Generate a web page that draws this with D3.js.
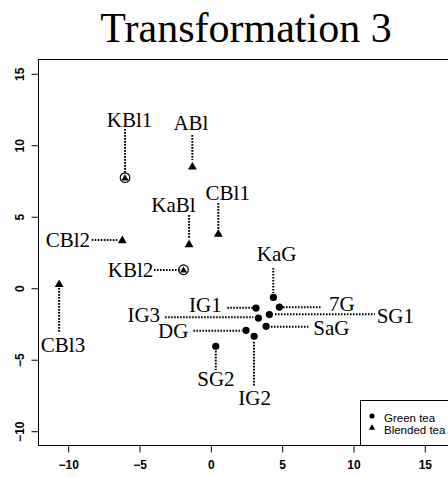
<!DOCTYPE html>
<html>
<head>
<meta charset="utf-8">
<script src="https://cdn.jsdelivr.net/npm/d3@7"></script>
<style>
  html, body { margin: 0; padding: 0; background: #fff; }
  svg { display: block; }
</style>
</head>
<body>
<div id="chart"></div>
<script>
// Scores of each tea sample on the two transformed axes
const greenTea = [
  { name: "KaG", x: 4.42, y: -0.68 },
  { name: "7G",  x: 4.84, y: -1.35 },
  { name: "IG1", x: 3.20, y: -1.42 },
  { name: "SG1", x: 4.14, y: -1.88 },
  { name: "IG3", x: 3.37, y: -2.12 },
  { name: "SaG", x: 3.91, y: -2.70 },
  { name: "DG",  x: 2.50, y: -2.98 },
  { name: "IG2", x: 3.07, y: -3.40 },
  { name: "SG2", x: 0.38, y: -4.10 }
];
const blendedTea = [
  { name: "KBl1", x: -5.98, y: 7.70, ring: true },
  { name: "ABl",  x: -1.26, y: 8.50 },
  { name: "CBl1", x: 0.56,  y: 3.81 },
  { name: "KaBl", x: -1.49, y: 3.07 },
  { name: "CBl2", x: -6.17, y: 3.35 },
  { name: "KBl2", x: -1.88, y: 1.26, ring: true },
  { name: "CBl3", x: -10.60, y: 0.28 }
];

// Sample labels placed in data units (anchor = text-anchor)
const labels = [
  { name: "KBl1", x: -5.66, y: 11.26, anchor: "middle" },
  { name: "ABl",  x: -1.36, y: 11.00, anchor: "middle" },
  { name: "CBl1", x: 1.22,  y: 6.13,  anchor: "middle" },
  { name: "KaBl", x: -2.59, y: 5.32,  anchor: "middle" },
  { name: "CBl2", x: -8.43, y: 2.87,  anchor: "end" },
  { name: "KBl2", x: -4.00, y: 0.77,  anchor: "end" },
  { name: "CBl3", x: -10.33, y: -4.50, anchor: "middle" },
  { name: "KaG",  x: 4.65,  y: 1.89,  anchor: "middle" },
  { name: "7G",   x: 8.32,  y: -1.61, anchor: "start" },
  { name: "IG1",  x: 0.80,  y: -1.68, anchor: "end" },
  { name: "SG1",  x: 11.66, y: -2.49, anchor: "start" },
  { name: "IG3",  x: -3.52, y: -2.38, anchor: "end" },
  { name: "SaG",  x: 7.22,  y: -3.31, anchor: "start" },
  { name: "DG",   x: -1.54, y: -3.54, anchor: "end" },
  { name: "IG2",  x: 3.11,  y: -8.20, anchor: "middle" },
  { name: "SG2",  x: 0.39,  y: -6.85, anchor: "middle" }
];

// Dotted leader lines joining labels to their points, in data units
const leaders = [
  { x1: -5.98, y1: 11.10, x2: -5.98, y2: 8.02 },
  { x1: -1.26, y1: 10.68, x2: -1.26, y2: 8.93 },
  { x1: 0.56,  y1: 5.92,  x2: 0.56,  y2: 4.03 },
  { x1: -1.49, y1: 5.08,  x2: -1.49, y2: 3.48 },
  { x1: -8.31, y1: 3.34,  x2: -6.52, y2: 3.34 },
  { x1: -3.95, y1: 1.24,  x2: -2.12, y2: 1.24 },
  { x1: -10.60, y1: -0.02, x2: -10.60, y2: -3.17 },
  { x1: 4.41,  y1: 1.38,  x2: 4.41,  y2: -0.37 },
  { x1: 5.09,  y1: -1.37, x2: 7.81,  y2: -1.37 },
  { x1: 1.19,  y1: -1.40, x2: 3.01,  y2: -1.40 },
  { x1: 4.53,  y1: -1.86, x2: 11.54, y2: -1.86 },
  { x1: -3.17, y1: -2.07, x2: 3.01,  y2: -2.07 },
  { x1: 4.25,  y1: -2.73, x2: 6.87,  y2: -2.73 },
  { x1: -1.19, y1: -3.01, x2: 2.20,  y2: -3.01 },
  { x1: 3.06,  y1: -3.78, x2: 3.06,  y2: -6.92 },
  { x1: 0.38,  y1: -4.41, x2: 0.38,  y2: -5.76 }
];

const xTicks = [-10, -5, 0, 5, 10, 15];
const yTicks = [-10, -5, 0, 5, 10, 15];
const xLimits = [-11, 16];
const yLimits = [-10, 15];
const chartTitle = "Transformation 3";
const legendItems = [
  { label: "Green tea", shape: "circle" },
  { label: "Blended tea", shape: "triangle" }
];

const W = 448, H = 477;
const plot = { left: 38, right: 454, top: 59, bottom: 445 };

// R-style 4% axis expansion
function expand([a, b]) { const d = (b - a) * 0.04; return [a - d, b + d]; }

const x = d3.scaleLinear().domain(expand(xLimits)).range([plot.left, plot.right]);
const y = d3.scaleLinear().domain(expand(yLimits)).range([plot.bottom, plot.top]);

const svg = d3.select("#chart").append("svg")
  .attr("width", W).attr("height", H);

// Title
svg.append("text")
  .attr("x", (plot.left + plot.right) / 2)
  .attr("y", 42)
  .attr("text-anchor", "middle")
  .attr("font-family", "'Liberation Serif', 'Times New Roman', serif")
  .attr("font-size", 42)
  .attr("fill", "#000")
  .text(chartTitle);

// Plot frame
svg.append("rect")
  .attr("x", plot.left + 0.5).attr("y", plot.top + 0.5)
  .attr("width", plot.right - plot.left).attr("height", plot.bottom - plot.top)
  .attr("fill", "none").attr("stroke", "#000").attr("stroke-width", 1);

const tickFont = "'Liberation Sans', Arial, Helvetica, sans-serif";

// Bottom axis
const xAxis = svg.append("g")
  .attr("transform", `translate(0.5,${plot.bottom + 8.5})`)
  .call(d3.axisBottom(x).tickValues(xTicks).tickSize(7).tickSizeOuter(0).tickPadding(6)
    .tickFormat(d3.format("d")));
xAxis.select(".domain").remove();
xAxis.selectAll("line").attr("transform", "translate(0,-8)").attr("stroke", "#000");
xAxis.selectAll("text")
  .attr("font-family", tickFont).attr("font-size", 12).attr("font-weight", "bold")
  .attr("fill", "#000").attr("dy", "0.2em");

// Left axis (labels rotated like R's default)
const yAxis = svg.append("g")
  .attr("transform", `translate(${plot.left + 0.5},0.5)`)
  .call(d3.axisLeft(y).tickValues(yTicks).tickSize(7).tickSizeOuter(0)
    .tickFormat(d3.format("d")));
yAxis.select(".domain").remove();
yAxis.selectAll("line").attr("stroke", "#000");
yAxis.selectAll("text")
  .attr("font-family", tickFont).attr("font-size", 12).attr("font-weight", "bold")
  .attr("fill", "#000")
  .attr("x", null).attr("dy", null)
  .attr("text-anchor", "middle")
  .attr("transform", "translate(-18.5,0) rotate(-90)")
  .attr("dy", "0.35em");

// Leaders
svg.append("g").selectAll("line").data(leaders).join("line")
  .attr("x1", d => x(d.x1)).attr("y1", d => y(d.y1))
  .attr("x2", d => x(d.x2)).attr("y2", d => y(d.y2))
  .attr("stroke", "#000").attr("stroke-width", 2)
  .attr("stroke-dasharray", "1.6,1.4");

// Green tea points
svg.append("g").selectAll("circle").data(greenTea).join("circle")
  .attr("cx", d => x(d.x)).attr("cy", d => y(d.y))
  .attr("r", 3.6).attr("fill", "#000");

// Blended tea points; KBl1 and KBl2 are also ringed
const tri = d3.symbol().type(d3.symbolTriangle);
const bl = svg.append("g");
bl.selectAll("path").data(blendedTea).join("path")
  .attr("transform", d => `translate(${x(d.x)},${y(d.y) + 0.8})`)
  .attr("d", d => tri.size(d.ring ? 22 : 34)())
  .attr("fill", "#000");
bl.selectAll("circle").data(blendedTea.filter(d => d.ring)).join("circle")
  .attr("cx", d => x(d.x)).attr("cy", d => y(d.y))
  .attr("r", 4.8).attr("fill", "none").attr("stroke", "#000").attr("stroke-width", 1.2);

// Sample labels
svg.append("g").selectAll("text").data(labels).join("text")
  .attr("x", d => x(d.x)).attr("y", d => y(d.y))
  .attr("text-anchor", d => d.anchor)
  .attr("font-family", "'Liberation Serif', 'Times New Roman', serif")
  .attr("font-size", 21)
  .attr("fill", "#000")
  .text(d => d.name);

// Legend in the lower-right corner
const lg = svg.append("g");
lg.append("rect")
  .attr("x", 360.5).attr("y", 400.5)
  .attr("width", plot.right - 360).attr("height", plot.bottom - 400)
  .attr("fill", "#fff").attr("stroke", "#000").attr("stroke-width", 1);
const rows = lg.selectAll("g.row").data(legendItems).join("g")
  .attr("class", "row")
  .attr("transform", (d, i) => `translate(0,${418 + i * 11.5})`);
rows.filter(d => d.shape === "circle").append("circle")
  .attr("cx", 372).attr("cy", -2).attr("r", 2.6).attr("fill", "#000");
rows.filter(d => d.shape === "triangle").append("path")
  .attr("transform", "translate(372,-1.5)")
  .attr("d", d3.symbol().type(d3.symbolTriangle).size(18)())
  .attr("fill", "#000");
rows.append("text")
  .attr("x", 384).attr("y", 4)
  .attr("font-family", tickFont).attr("font-size", 11.5)
  .attr("fill", "#000")
  .text(d => d.label);
</script>
</body>
</html>
